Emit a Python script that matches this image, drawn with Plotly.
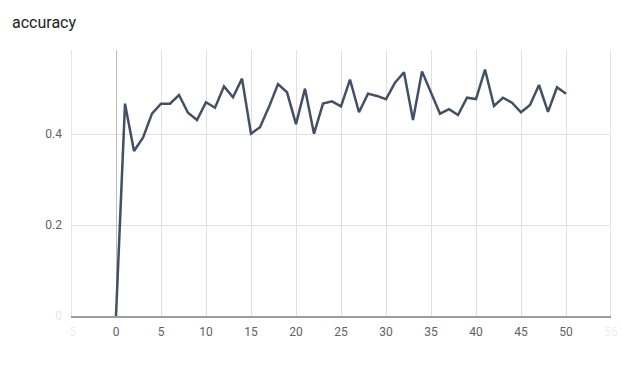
import plotly.graph_objects as go

steps = list(range(0, 51))
accuracy = [0.0, 0.467, 0.363, 0.392, 0.445, 0.467, 0.467, 0.486, 0.447, 0.431,
            0.470, 0.458, 0.505, 0.481, 0.522, 0.401, 0.415, 0.460, 0.510, 0.492,
            0.422, 0.500, 0.401, 0.467, 0.472, 0.461, 0.520, 0.448, 0.489, 0.484,
            0.477, 0.513, 0.536, 0.431, 0.538, 0.493, 0.445, 0.455, 0.442, 0.480,
            0.477, 0.542, 0.462, 0.480, 0.469, 0.448, 0.464, 0.508, 0.449, 0.503,
            0.489]

x_ticks = [-5, 0, 5, 10, 15, 20, 25, 30, 35, 40, 45, 50, 55]
x_ticktext = ['<span style="color:#eeeeee">-5</span>'] + [str(v) for v in x_ticks[1:-1]] + ['<span style="color:#eeeeee">55</span>']
y_ticks = [0, 0.2, 0.4]
y_ticktext = ['<span style="color:#e6e6e6">0</span>', '0.2', '0.4']

fig = go.Figure()
fig.add_trace(go.Scatter(x=steps, y=accuracy, mode="lines",
                         line=dict(color="#425066", width=2.5), showlegend=False))

fig.update_layout(
    width=622, height=371, autosize=False,
    margin=dict(l=71, r=11, t=50, b=55),
    paper_bgcolor="white", plot_bgcolor="white",
    font=dict(family="Roboto", size=12, color="#616161"),
    title=dict(text="accuracy", x=12/622, xref="container", xanchor="left",
               y=1 - 22/371, yanchor="middle", automargin=False,
               font=dict(family="Roboto", size=16, color="#212121")),
)

fig.update_xaxes(range=[-5, 55], tickvals=x_ticks, ticktext=x_ticktext,
                 showgrid=True, gridcolor="#e0e0e0", gridwidth=1,
                 zeroline=True, zerolinecolor="#bdbdbd", zerolinewidth=1,
                 showline=True, linecolor="#9e9e9e", linewidth=2,
                 ticks="", ticklabelstandoff=4, fixedrange=True, automargin=False)
fig.update_yaxes(range=[0, 0.585], tickvals=y_ticks, ticktext=y_ticktext,
                 showgrid=True, gridcolor="#e0e0e0", gridwidth=1,
                 zeroline=False, showline=False,
                 ticks="", ticklabelstandoff=8, fixedrange=True, automargin=False)

# edge gridlines at x=-5 and x=55
for xv in (-5, 55):
    fig.add_shape(type="line", xref="x", yref="paper", x0=xv, x1=xv, y0=0, y1=1,
                  line=dict(color="#dcdcdc", width=1.5), layer="below")

fig.write_html("out.html",
               config={"displayModeBar": False, "responsive": False},
               post_script="document.body.style.margin='0';document.body.style.padding='0';document.body.style.overflow='hidden';document.documentElement.style.overflow='hidden';")
